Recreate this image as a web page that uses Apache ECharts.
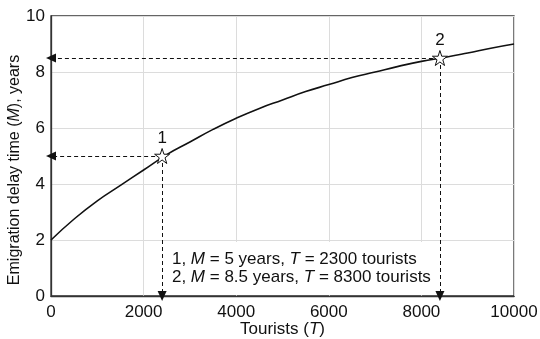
<!DOCTYPE html>
<html>
<head>
<meta charset="utf-8">
<script src="https://cdn.jsdelivr.net/npm/echarts@6/dist/echarts.min.js"></script>
<style>
html,body{margin:0;padding:0;background:#fff;}
#chart{width:540px;height:339px;}
</style>
</head>
<body>
<div id="chart"></div>
<script>
// Curve readings (Tourists T, delay M)
var CURVE_T = [0, 500, 1000, 1500, 2000, 2500, 3000, 3500, 4000, 4500, 5000, 5500, 6000, 6500, 7000, 7500, 8000, 8500, 9000, 9500, 10000];
var CURVE_M = [2.0, 2.75, 3.4, 3.95, 4.5, 5.05, 5.5, 5.95, 6.35, 6.7, 7.0, 7.3, 7.55, 7.8, 8.0, 8.2, 8.38, 8.52, 8.68, 8.85, 9.0];
// Marked points
var POINT_NAMES = ['1', '2'];
var POINT_T = [2400, 8400];
var POINT_M = [5, 8.5];
// Annotation text values
var NOTE_M = ['5', '8.5'];
var NOTE_T = ['2300', '8300'];
// Axis ranges
var X_MIN = 0, X_MAX = 10000, X_STEP = 2000;
var Y_MIN = 0, Y_MAX = 10, Y_STEP = 2;

var FONT = 'Liberation Sans, Arial, Helvetica, sans-serif';
var TXT = '#111';
var FS = 17;
var YFS = 16;
var STAR = 'path://M50,0 L61.8,35.1 L98.9,35.1 L68.9,56.8 L80.2,91.9 L50,70.2 L19.8,91.9 L31.1,56.8 L1.1,35.1 L38.2,35.1 Z';

var chart = echarts.init(document.getElementById('chart'), null, {renderer: 'canvas'});

var curveData = CURVE_T.map(function (t, i) { return [t, CURVE_M[i]]; });
var pointData = POINT_T.map(function (t, i) { return {name: POINT_NAMES[i], value: [t, POINT_M[i]]}; });

var guideLines = [];
POINT_T.forEach(function (t, i) {
  guideLines.push([{coord: [t, POINT_M[i]]}, {coord: [X_MIN, POINT_M[i]]}]);
  guideLines.push([{coord: [t, POINT_M[i]]}, {coord: [t, Y_MIN]}]);
});

var noteText = POINT_NAMES.map(function (n, i) {
  return n + ', {i|M} = ' + NOTE_M[i] + ' years, {i|T} = ' + NOTE_T[i] + ' tourists';
}).join('\n');

var italic = {fontStyle: 'italic', fontSize: FS, color: TXT, fontFamily: FONT};
var italicY = {fontStyle: 'italic', fontSize: YFS, color: TXT, fontFamily: FONT};

var option = {
  backgroundColor: '#fff',
  animation: false,
  textStyle: {fontFamily: FONT},
  grid: {left: 51, right: 26, top: 16, bottom: 43, outerBoundsMode: 'none', containLabel: false,
         show: true, borderColor: '#333', borderWidth: 1.3, backgroundColor: 'transparent'},
  xAxis: {
    type: 'value', min: X_MIN, max: X_MAX, interval: X_STEP,
    axisLine: {show: true, lineStyle: {color: '#333', width: 1.3}},
    axisTick: {show: false},
    splitLine: {show: true, lineStyle: {color: '#dcdcdc', width: 1}},
    axisLabel: {color: TXT, fontSize: FS, margin: 8, fontFamily: FONT, formatter: function (v) { return String(v); }},
    name: 'Tourists ({i|T})', nameLocation: 'middle', nameGap: 25, nameMoveOverlap: false,
    nameTextStyle: {color: TXT, fontSize: FS, fontFamily: FONT, rich: {i: italic}}
  },
  yAxis: {
    type: 'value', min: Y_MIN, max: Y_MAX, interval: Y_STEP,
    axisLine: {show: true, lineStyle: {color: '#333', width: 1.3}},
    axisTick: {show: false},
    splitLine: {show: true, lineStyle: {color: '#dcdcdc', width: 1}},
    axisLabel: {color: TXT, fontSize: FS, margin: 6, fontFamily: FONT, formatter: function (v) { return String(v); }},
    name: 'Emigration delay time ({i|M}), years', nameLocation: 'middle', nameGap: 28, nameRotate: 90, nameMoveOverlap: false,
    nameTextStyle: {color: TXT, fontSize: YFS, fontFamily: FONT, padding: [0, 28, 0, 0], rich: {i: italicY}}
  },
  series: [
    {
      type: 'line', z: 1, data: [], silent: true,
      markArea: {
        silent: true,
        itemStyle: {color: '#fff'},
        label: {
          show: true, position: 'insideLeft', distance: 8,
          color: TXT, fontSize: FS, fontFamily: FONT, lineHeight: 18,
          rich: {i: {fontStyle: 'italic', fontSize: FS, color: TXT, fontFamily: FONT, lineHeight: 18}},
          formatter: function () { return noteText; }
        },
        data: [[{coord: [POINT_T[0] + 40, 0.04]}, {coord: [POINT_T[1] - 40, 1.93]}]]
      }
    },
    {
      type: 'line', z: 3, data: curveData, smooth: true, symbol: 'none',
      lineStyle: {color: '#111', width: 1.6}
    },
    {
      type: 'line', z: 4, data: [], silent: true,
      markLine: {
        silent: true,
        symbol: ['none', 'triangle'], symbolSize: [9, 10],
        label: {show: false},
        lineStyle: {color: '#111', type: [4, 3], width: 1},
        data: guideLines
      }
    },
    {
      type: 'scatter', z: 5, data: pointData,
      symbol: STAR, symbolSize: 15,
      itemStyle: {color: '#fff', borderColor: '#111', borderWidth: 1, opacity: 1},
      label: {show: true, position: 'top', distance: 1, formatter: '{b}', color: TXT, fontSize: FS, fontFamily: FONT}
    }
  ]
};
chart.setOption(option);
</script>
</body>
</html>
